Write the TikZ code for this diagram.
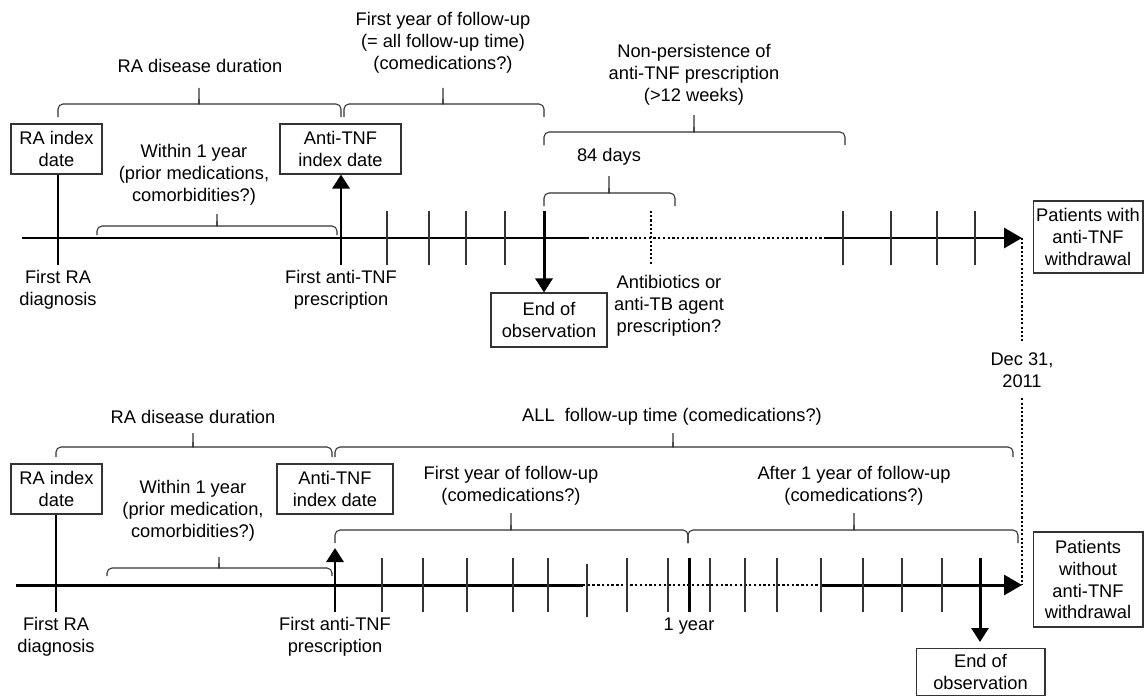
\documentclass[tikz,border=0pt]{standalone}
\usepackage{fontspec}
\setmainfont{Liberation Sans}
\usetikzlibrary{arrows.meta}

\begin{document}
\begin{tikzpicture}[x=0.02cm, y=-0.02cm, font=\fontsize{10.4}{12.5}\selectfont,
    box/.style={draw=black!80, line width=0.6pt, align=center, inner sep=0pt},
    lbl/.style={align=center, inner sep=2pt},
    axis/.style={line width=1.7pt},
    axisdot/.style={line width=1.3pt, dash pattern=on 1.3pt off 1.4pt},
    tick/.style={line width=0.6pt, black!80},
    thk/.style={line width=1.7pt},
    brk/.style={line width=0.6pt, black!80},
    vdot/.style={line width=0.6pt, dash pattern=on 1.2pt off 1.2pt},
    bigtip/.style={-{Triangle[length=0.36cm,width=0.4cm]}},
    smalltip/.style={-{Triangle[length=0.28cm,width=0.34cm]}}]
\useasboundingbox (0,0) rectangle (1145,696);

\node[box, minimum width=1.82cm, minimum height=1cm] (raT) at (56.5,149) {RA index\\date};
\node[box, minimum width=2.42cm, minimum height=1cm] (tnfT) at (340.5,149) {Anti-TNF\\index date};
\node[box, minimum width=2.32cm, minimum height=1.08cm] (endT) at (549,320) {End of\\observation};
\node[box, minimum width=2.2cm, minimum height=1.44cm] (patT) at (1088,237) {Patients with\\anti-TNF\\withdrawal};

\node[lbl] (durT) at (200,66) {RA disease duration};
\node[lbl] (fyT) at (443,43) {First year of follow-up\\(= all follow-up time)\\(comedications?)};
\node[lbl] (npT) at (694,75) {Non-persistence of\\anti-TNF prescription\\(>12 weeks)};
\node[lbl] (d84) at (609,157) {84 days};
\node[lbl] (wiT) at (194,175) {Within 1 year\\(prior medications,\\comorbidities?)};
\node[lbl] (fraT) at (58,290) {First RA\\diagnosis};
\node[lbl] (ftnfT) at (341,290) {First anti-TNF\\prescription};
\node[lbl] (abT) at (669,306) {Antibiotics or\\anti-TB agent\\prescription?};
\node[lbl, inner sep=6pt] (dec) at (1022,370) {Dec 31,\\2011};

\coordinate (a0) at (22,238);
\coordinate (a1) at (587,238);
\coordinate (a2) at (825,238);
\coordinate (a3) at (1022,238);
\draw[axis] (a0) -- (a1);
\draw[axisdot] (a1) -- (a2);
\draw[axis, bigtip] (a2) -- (a3);

\coordinate (raTe) at (58,265);
\coordinate (tnfTe) at (341,265);
\coordinate (endTs) at (544,211);
\draw[thk] (raT.south -| raTe) -- (raTe);
\draw[thk, smalltip] (tnfTe) -- (tnfTe |- tnfT.south);
\draw[thk, smalltip] (endTs) -- (endTs |- endT.north);

\foreach \x in {387,429,466,505,843,891,937,975}
{
    \draw[tick] (\x,211) -- (\x,265);
}
\draw[vdot] (651,211) -- (651,265);

\node[box, minimum width=1.82cm, minimum height=1cm] (raB) at (56.5,489) {RA index\\date};
\node[box, minimum width=2.32cm, minimum height=1cm] (tnfB) at (335,489) {Anti-TNF\\index date};
\node[box, minimum width=2.58cm, minimum height=0.94cm] (endB) at (980.5,672) {End of\\observation};
\node[box, minimum width=2.2cm, minimum height=1.9cm] (patB) at (1088,579.5) {Patients\\without\\anti-TNF\\withdrawal};

\node[lbl] (durB) at (193,417) {RA disease duration};
\node[lbl] (allB) at (672,417) {ALL\ \ follow-up time (comedications?)};
\node[lbl] (wiB) at (193,511) {Within 1 year\\(prior medication,\\comorbidities?)};
\node[lbl] (fyB) at (511,486) {First year of follow-up\\(comedications?)};
\node[lbl] (afB) at (854,486) {After 1 year of follow-up\\(comedications?)};
\node[lbl] (fraB) at (56,636.5) {First RA\\diagnosis};
\node[lbl] (ftnfB) at (335,636.5) {First anti-TNF\\prescription};
\node[lbl] (yrB) at (689,626) {1 year};

\coordinate (b0) at (16,585);
\coordinate (b1) at (583,585);
\coordinate (b2) at (820,585);
\coordinate (b3) at (1022,585);
\draw[axis] (b0) -- (b1);
\draw[axisdot] (b1) -- (b2);
\draw[axis, bigtip] (b2) -- (b3);

\coordinate (raBe) at (56,612);
\coordinate (tnfBs) at (335,612);
\coordinate (tnfBe) at (335,548);
\coordinate (endBs) at (980,558);
\coordinate (endBe) at (980,642);
\draw[thk] (raB.south -| raBe) -- (raBe);
\draw[thk, smalltip] (tnfBs) -- (tnfBe);
\draw[thk, smalltip] (endBs) -- (endBe);

\foreach \x in {382,423,467,513,548,627,668,710,745,777,821,863,902,942}
{
    \draw[tick] (\x,558) -- (\x,612);
}
\draw[tick] (587,564) -- (587,617);
\draw[thk] (689,558) -- (689,612);

\draw[vdot] (a3) -- (dec.north);
\draw[vdot] (dec.south) -- (b3);

\foreach \xa/\xb/\xc/\ya/\yb/\yc in {58/341/199/117/104/88, 344/544/443/117/104/88,
    544/845/694/145/132/115, 544/675/609/206/193/176, 97/337/217/235/226/214,
    56/332/193/457/447/433, 335/1013/673/457/447/433, 107/332/219/576/568/557,
    335/688/511/543/530/513, 688/1018/854/543/530/513}
{
    \draw[brk] (\xa,\ya) [rounded corners=0.1cm] |- (\xc-5,\yb) [sharp corners] .. controls (\xc,\yb) .. (\xc,\yb-5) -- (\xc,\yc);
    \draw[brk] (\xb,\ya) [rounded corners=0.1cm] |- (\xc+5,\yb) [sharp corners] .. controls (\xc,\yb) .. (\xc,\yb-5);
}

\end{tikzpicture}
\end{document}
